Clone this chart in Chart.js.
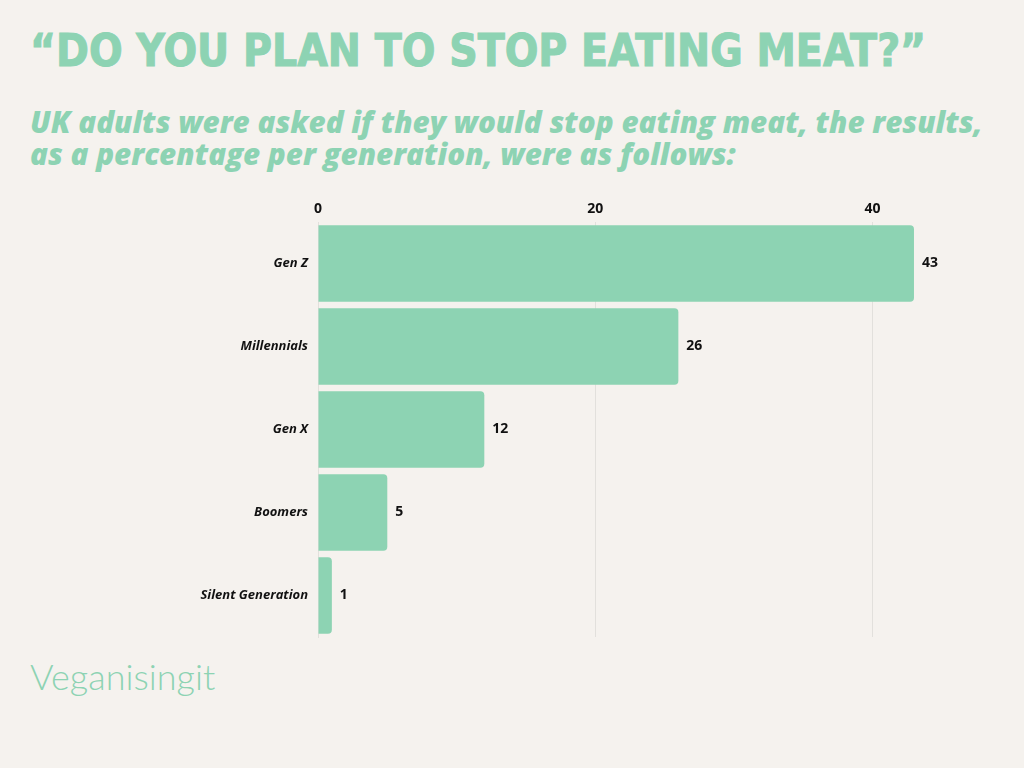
<!DOCTYPE html>
<html>
<head>
<meta charset="utf-8">
<script src="https://cdn.jsdelivr.net/npm/chart.js@4"></script>
<style>
  body { margin: 0; background: #f5f2ee; width: 1024px; height: 768px; overflow: hidden; position: relative; }
  #title { position: absolute; left: 30px; top: 25px; font-family: "DejaVu Sans Condensed", "DejaVu Sans"; font-weight: bold; font-size: 44px; color: #8dd3b3; white-space: nowrap; -webkit-text-stroke: 1px #8dd3b3; }
  #sub { position: absolute; left: 30px; top: 106px; font-family: "Open Sans"; font-weight: 800; font-style: italic; font-size: 29.6px; line-height: 32px; color: #8dd3b3; white-space: nowrap; }
  #logo { position: absolute; left: 30px; top: 654px; font-family: Lato; font-weight: 300; font-size: 36px; color: #8dd3b3; }
  canvas { position: absolute; left: 0; top: 0; }
</style>
</head>
<body>
<div id="title">“DO YOU PLAN TO STOP EATING MEAT?”</div>
<div id="sub">UK adults were asked if they would stop eating meat, the results,<br>as a percentage per generation, were as follows:</div>
<div id="logo">Veganisingit</div>
<canvas id="chart" width="1024" height="768"></canvas>
<script>
const generations = ['Gen Z', 'Millennials', 'Gen X', 'Boomers', 'Silent Generation'];
const percentages = [43, 26, 12, 5, 1];
const tickValues = [0, 20, 40];

const valueLabels = {
    id: 'valueLabels',
    afterDatasetsDraw(chart) {
        const ctx = chart.ctx;
        const meta = chart.getDatasetMeta(0);
        ctx.save();
        ctx.font = 'bold 14px "Open Sans"';
        ctx.fillStyle = '#111';
        ctx.textBaseline = 'middle';
        meta.data.forEach((bar, i) => {
            ctx.fillText(String(percentages[i]), bar.x + 8, bar.y);
        });
        ctx.restore();
    }
};

new Chart(document.getElementById('chart'), {
    type: 'bar',
    data: {
        labels: generations,
        datasets: [{
            data: percentages,
            backgroundColor: '#8dd3b3',
            borderRadius: { topRight: 4, bottomRight: 4 },
            borderSkipped: false,
            categoryPercentage: 1,
            barPercentage: 0.92
        }]
    },
    options: {
        indexAxis: 'y',
        responsive: false,
        animation: false,
        layout: { padding: { top: 195, bottom: 131, left: 0, right: 13 } },
        plugins: { legend: { display: false }, tooltip: { enabled: false } },
        scales: {
            x: {
                position: 'top',
                min: 0,
                max: 50,
                afterBuildTicks: axis => { axis.ticks = tickValues.map(v => ({ value: v })); },
                afterFit: axis => { axis.height = 27; },
                grid: { color: '#e2e0dc', drawTicks: false },
                border: { display: false },
                ticks: { color: '#111', padding: 5, font: { family: 'Open Sans', weight: 'bold', size: 14 } }
            },
            y: {
                afterFit: axis => { axis.width = 318; },
                grid: { display: false, drawTicks: false },
                border: { color: '#e2e0dc' },
                ticks: { color: '#111', padding: 10, font: { family: 'Open Sans', weight: 'bold', style: 'italic', size: 13 } }
            }
        }
    },
    plugins: [valueLabels]
});
</script>
</body>
</html>
